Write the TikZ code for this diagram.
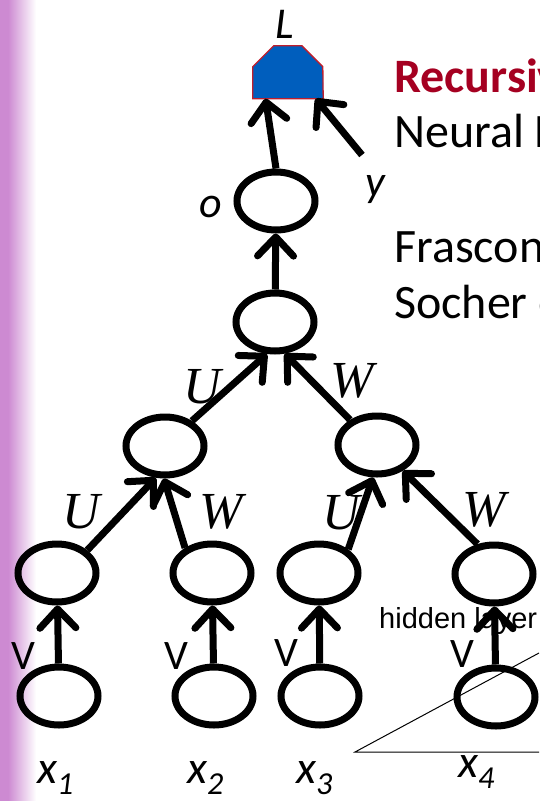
\documentclass[tikz,border=0pt]{standalone}
\usepackage{fontspec}
\setmainfont{Carlito}
\newfontfamily\timesfont{Liberation Serif}
\newfontfamily\arialfont{Liberation Sans}
\usetikzlibrary{arrows.meta, shapes.geometric}
\definecolor{orchid}{RGB}{205,138,210}
\definecolor{titlered}{RGB}{165,0,33}
\definecolor{lossblue}{RGB}{0,94,189}
\definecolor{lossedge}{RGB}{190,30,45}
\newcommand{\sz}[1]{\fontsize{#1}{#1}\selectfont}
\newcommand{\xin}[1]{x\raisebox{-11pt}{\sz{32}#1}}

\begin{document}
\begin{tikzpicture}[x=1pt, y=-1pt,
  unit/.style={draw, ellipse, line width=7pt, minimum width=78pt,
               minimum height=58pt, inner sep=0pt},
  arr/.style={line width=7pt, -{Straight Barb[length=19pt, width=36pt, round]}},
  lbl/.style={font=\sz{44}\itshape, inner sep=0pt},
  wt/.style={font=\sz{52}\timesfont\itshape, inner sep=0pt},
  vlbl/.style={font=\sz{42}, inner sep=0pt},
  inlbl/.style={font=\sz{46}\itshape, anchor=base west, inner sep=0pt},
  body/.style={font=\sz{48}, anchor=base west, inner sep=0pt}]
  \useasboundingbox (0,0) rectangle (539,801);
  \clip (0,0) rectangle (539,801);
  % side bar
  \fill[orchid] (0,0) rectangle (8,801);
  \shade[left color=orchid, right color=white] (8,0) rectangle (36,801);
  % text on the right
  \node[body, font=\sz{48}\bfseries, text=titlered] (title) at (394,92) {Recursive Neural Networks};
  \node[body] (sub) at (394,147) {Neural Networks};
  \node[body] (ref1) at (394,262) {Frasconi et al. 1997};
  \node[body] (ref2) at (394,318) {Socher et al. 2011};
  \node[font=\sz{29}\arialfont, anchor=base west, inner sep=0pt] (hid) at (379,628) {hidden layer};
  % loss
  \node[minimum width=70pt, minimum height=53pt, inner sep=0pt] (loss) at (288,72) {};
  \filldraw[fill=lossblue, draw=lossedge, line width=1.3pt]
    (loss.south west) -- ++(0,-32) -- ++(21,-21) -- ++(28,0) -- ++(21,21)
    -- (loss.south east) -- cycle;
  \node[lbl] (lname) at (285,24) {L};
  \coordinate (yin) at (362,155);
  \node[lbl] (yname) at (375,190) {y};
  % tree
  \node[unit] (o) at (276,201) {};
  \node[lbl] (oname) at (211,207) {o};
  \node[unit] (r) at (275,322) {};
  \node[unit] (n1) at (165,446) {};
  \node[unit] (n2) at (377,445) {};
  \node[unit] (h1) at (57,573) {};
  \node[unit] (h2) at (212,573) {};
  \node[unit] (h3) at (319,573) {};
  \node[unit] (h4) at (494,574) {};
  \node[unit] (i1) at (59,696) {};
  \node[unit] (i2) at (214,696) {};
  \node[unit] (i3) at (320,696) {};
  \node[unit] (i4) at (496,697) {};
  % weights
  \node[wt] (u1) at (202,387) {U};
  \node[wt] (w1) at (352,381) {W};
  \node[wt] (u2) at (81,512) {U};
  \node[wt] (w2) at (221,512) {W};
  \node[wt] (u3) at (341,513) {U};
  \node[wt] (w3) at (484,510) {W};
  \node[vlbl] (v1) at (23,656) {V};
  \node[vlbl] (v2) at (176,656) {V};
  \node[vlbl] (v3) at (286,653) {V};
  \node[vlbl] (v4) at (462,654) {V};
  % inputs
  \node[inlbl] (x1) at (37,783) {\xin{1}};
  \node[inlbl] (x2) at (187,783) {\xin{2}};
  \node[inlbl] (x3) at (296,783) {\xin{3}};
  \node[inlbl] (x4) at (458,777) {\xin{4}};
  % arrows
  \draw[arr] (i1) -- (h1); \draw[arr] (i2) -- (h2);
  \draw[arr] (i3) -- (h3); \draw[arr] (i4) -- (h4);
  \draw[arr] (h1.37) -- (n1.254); \draw[arr] (h2.137) -- (n1.268);
  \draw[arr] (h3.39) -- (n2.263); \draw[arr] (h4.119) -- (n2.315);
  \draw[arr] (n1.43) -- (r.256); \draw[arr] (n2.137) -- (r.287);
  \draw[arr] (r) -- (o);
  \draw[arr] (o.north) -- (loss.230);
  \draw[arr] (yin) -- (loss.316);
  % triangle edge
  \draw[line width=1pt] (539,653) -- (355,752) -- (539,752);
\end{tikzpicture}
\end{document}
